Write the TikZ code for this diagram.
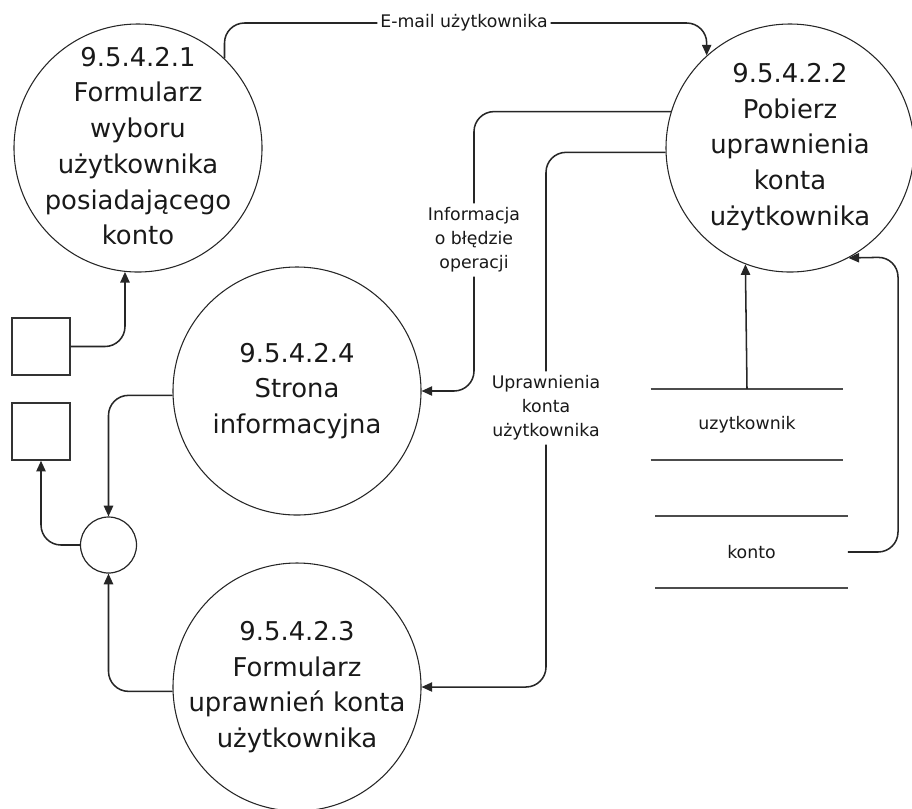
\documentclass[tikz,border=0pt]{standalone}
\usepackage{fontspec}
\setmainfont{DejaVu Sans}
\usetikzlibrary{arrows.meta,calc}
\begin{document}
\begin{tikzpicture}[x=0.75pt,y=-0.75pt,
  proc/.style={circle,draw=black!85,line width=0.8pt,minimum size=186pt,inner sep=0pt},
  bigtxt/.style={align=center,font=\fontsize{19.4}{26.8}\selectfont,text=black!90,inner sep=0pt},
  smalltxt/.style={align=center,font=\fontsize{13}{18}\selectfont,text=black!90},
  ext/.style={draw=black!80,line width=1.1pt,minimum width=43.5pt,minimum height=42.75pt,inner sep=0pt},
  conn/.style={circle,draw=black!85,line width=0.9pt,minimum size=42pt,inner sep=0pt},
  flow/.style={draw=black!85,line width=1.15pt,rounded corners=15pt},
  arr/.style={flow,-{Triangle[length=8pt,width=7pt]}},
  store/.style={minimum width=144pt,minimum height=53pt,inner sep=0pt,font=\fontsize{13}{18}\selectfont,text=black!90},
  storeline/.style={draw=black!70,line width=1.6pt},
]
\useasboundingbox (0,0) rectangle (912,808);

% processes
\node[proc] (c1) at (138,148) {};
\node[bigtxt] (c1t) at (138,146) {9.5.4.2.1\\Formularz\\wyboru\\użytkownika\\posiadającego\\konto};
\node[proc] (c2) at (790,148) {};
\node[bigtxt] (c2t) at (790,147) {9.5.4.2.2\\Pobierz\\uprawnienia\\konta\\użytkownika};
\node[proc] (c4) at (297,391) {};
\node[bigtxt] (c4t) at (c4) {9.5.4.2.4\\Strona\\informacyjna};
\node[proc] (c3) at (297,687) {};
\node[bigtxt] (c3t) at (c3) {9.5.4.2.3\\Formularz\\uprawnień konta\\użytkownika};

% externals and connector
\node[ext] (sq1) at (41,346.5) {};
\node[ext] (sq2) at (41,431.5) {};
\node[conn] (sc) at (108.5,545) {};

% data stores
\node[store] (ds1) at (747,424.5) {uzytkownik};
\node[store] (ds2) at (751.5,552) {konto};
\draw[storeline] (ds1.north west) -- (ds1.north east);
\draw[storeline] (ds1.south west) -- (ds1.south east);
\draw[storeline] (ds2.north west) -- (ds2.north east);
\draw[storeline] (ds2.south west) -- (ds2.south east);

% labels
\node[smalltxt,fill=white,inner sep=2pt] (em) at (464,23) {E-mail użytkownika};
\node[smalltxt,fill=white,inner sep=3pt] (info) at (474,240) {Informacja\\o błędzie\\operacji};
\node[smalltxt,fill=white,inner sep=3pt] (upr) at (546,408) {Uprawnienia\\konta\\użytkownika};

% flows
\draw[arr] (sq1.east) -| (c1.264.4);
\draw[arr] (c4.182.8) -| (sc.north);
\draw[arr] (sc.west) -| (sq2.south);
\draw[arr] (c3.182.3) -| (sc.south);
\draw[flow] (c1.46) |- (em.west);
\draw[arr] (em.east) -| (c2.132.1);
\draw[flow] (c2.163.6) -| (info.north);
\draw[arr] (info.south) |- (c4.east);
\draw[flow] (c2.182.3) -| (upr.north);
\draw[arr] (upr.south) |- (c3.east);
\draw[arr] (ds1.north) -- (c2.249.7);
\coordinate (kc) at (898,257);
\draw[arr] (ds2.east) -| (kc) -- (c2.298.6);
\end{tikzpicture}
\end{document}
